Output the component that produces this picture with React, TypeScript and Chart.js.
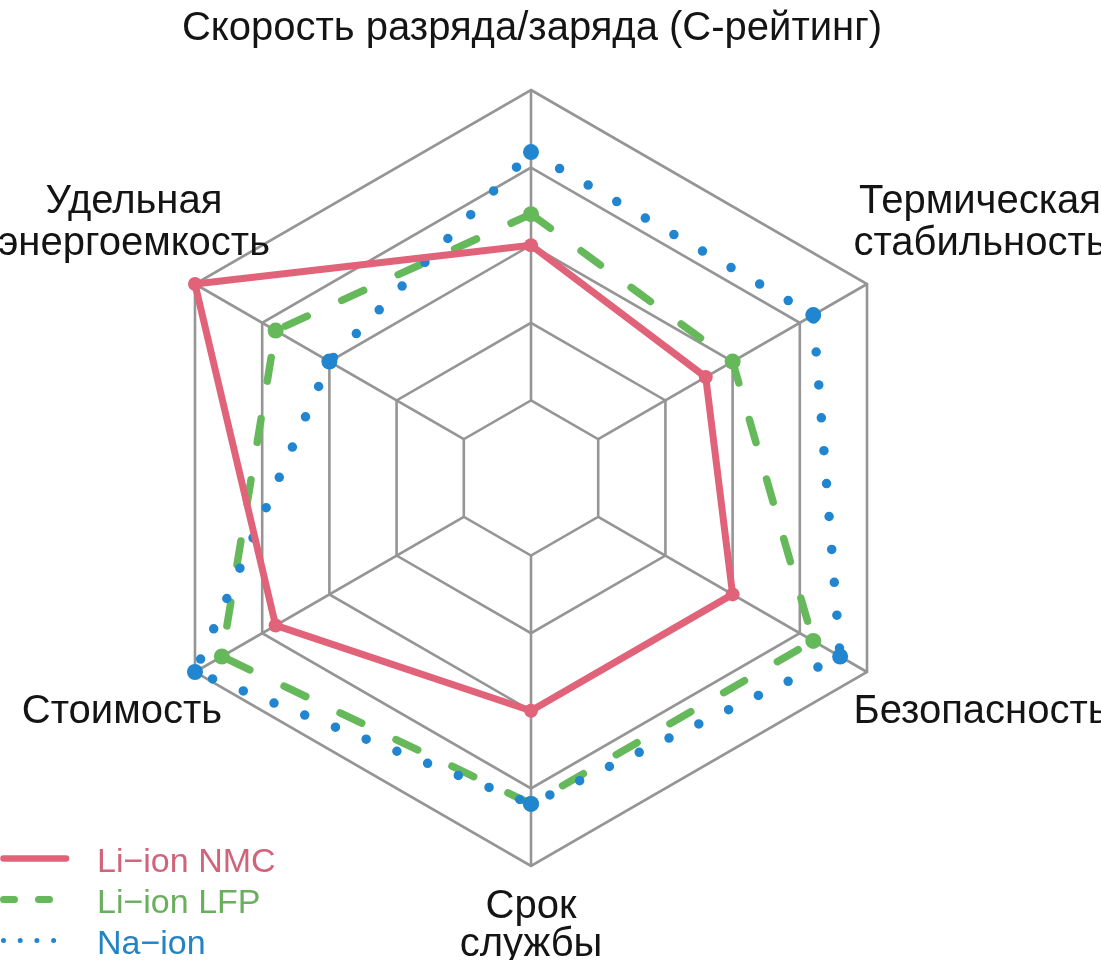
import React, { useEffect, useRef } from "react";
import { Chart, registerables } from "chart.js";

Chart.register(...registerables);

// ---- data ----
const axisLabels: string[][] = [
  ["Скорость разряда/заряда (С-рейтинг)"],
  ["Термическая", "стабильность"],
  ["Безопасность"],
  ["Срок", "службы"],
  ["Стоимость"],
  ["Удельная", "энергоемкость"],
];
const seriesNames = ["Li−ion NMC", "Li−ion LFP", "Na−ion"];
const nmcValues = [3.0, 2.6, 3.0, 3.0, 3.8, 5.0];
const lfpValues = [3.4, 3.0, 4.2, 4.2, 4.6, 3.8];
const naValues = [4.2, 4.2, 4.6, 4.2, 5.0, 3.0];
const scaleTicks = [1, 2, 3, 4, 5];

// ---- styles ----
const RED = "#E0637A";
const GREEN = "#66B95A";
const BLUE = "#2186CF";
const LEGEND_TEXT = ["#D0647A", "#6AAF5E", "#2383C4"];
const GRID = "#959595";
const FONT = '"Liberation Sans", Arial, Helvetica, sans-serif';
const LABEL_OFFSETS: number[][] = [
  [1, -50],
  [113, -71],
  [114, 51],
  [0, 52],
  [-73, 51],
  [-61, -71],
];
const LABEL_LINE_HEIGHTS = [0, 42, 0, 38, 0, 42];
const LEGEND_SAMPLES = [
  { width: 6.5, dash: [] as number[] },
  { width: 7, dash: [11, 24] },
  { width: 5, dash: [0, 16.7] },
];

const spokePlugin = {
  id: "spokes",
  beforeDatasetsDraw(chart: any) {
    const scale = chart.scales.r;
    const ctx = chart.ctx;
    ctx.save();
    ctx.strokeStyle = GRID;
    ctx.lineWidth = 2.6;
    for (let i = 0; i < chart.data.labels.length; i++) {
      const a = scale.getPointPositionForValue(i, scaleTicks[0]);
      const b = scale.getPointPositionForValue(i, scaleTicks[scaleTicks.length - 1]);
      ctx.beginPath();
      ctx.moveTo(a.x, a.y);
      ctx.lineTo(b.x, b.y);
      ctx.stroke();
    }
    ctx.restore();
  },
};

const labelPlugin = {
  id: "axisLabels",
  afterDraw(chart: any) {
    const scale = chart.scales.r;
    const ctx = chart.ctx;
    ctx.save();
    ctx.font = `40px ${FONT}`;
    ctx.fillStyle = "#141414";
    ctx.textAlign = "center";
    ctx.textBaseline = "alphabetic";
    chart.data.labels.forEach((lab: any, i: number) => {
      const p = scale.getPointPosition(i, scale.drawingArea);
      const [dx, dy] = LABEL_OFFSETS[i];
      const lines = Array.isArray(lab) ? lab : [lab];
      lines.forEach((line: string, j: number) => {
        ctx.fillText(line, p.x + dx, p.y + dy + j * LABEL_LINE_HEIGHTS[i]);
      });
    });
    ctx.restore();
  },
};

const legendPlugin = {
  id: "cornerLegend",
  afterDraw(chart: any) {
    const ctx = chart.ctx;
    const x0 = 3.5;
    const x1 = 66;
    const textX = 97;
    const firstBaseline = 872;
    const rowH = 41;
    ctx.save();
    chart.data.datasets.forEach((ds: any, i: number) => {
      const base = firstBaseline + i * rowH;
      const y = base - 13.5;
      const s = LEGEND_SAMPLES[i];
      ctx.strokeStyle = ds.borderColor;
      ctx.lineWidth = s.width;
      ctx.lineCap = "round";
      ctx.setLineDash(s.dash);
      ctx.beginPath();
      ctx.moveTo(x0, y);
      ctx.lineTo(x1, y);
      ctx.stroke();
      ctx.setLineDash([]);
      ctx.font = `34px ${FONT}`;
      ctx.fillStyle = LEGEND_TEXT[i];
      ctx.textAlign = "left";
      ctx.textBaseline = "alphabetic";
      ctx.fillText(ds.label, textX, base);
    });
    ctx.restore();
  },
};

export default function App() {
  const canvasRef = useRef<HTMLCanvasElement | null>(null);

  useEffect(() => {
    document.body.style.margin = "0";
    const canvas = canvasRef.current;
    if (!canvas) return;
    const chart = new Chart(canvas, {
      type: "radar",
      data: {
        labels: axisLabels as any,
        datasets: [
          {
            label: seriesNames[0],
            data: nmcValues,
            borderColor: RED,
            backgroundColor: "transparent",
            fill: false,
            borderWidth: 7,
            borderJoinStyle: "round",
            pointRadius: 7,
            pointBackgroundColor: RED,
            pointBorderColor: RED,
            pointBorderWidth: 0,
            order: 0,
          },
          {
            label: seriesNames[1],
            data: lfpValues,
            borderColor: GREEN,
            backgroundColor: "transparent",
            fill: false,
            borderWidth: 7.5,
            borderDash: [24, 38],
            borderCapStyle: "round",
            pointRadius: 8,
            pointBackgroundColor: GREEN,
            pointBorderColor: GREEN,
            pointBorderWidth: 0,
            order: 2,
          },
          {
            label: seriesNames[2],
            data: naValues,
            borderColor: BLUE,
            backgroundColor: "transparent",
            fill: false,
            borderWidth: 9.5,
            borderDash: [0, 33],
            borderCapStyle: "round",
            pointRadius: 8,
            pointBackgroundColor: BLUE,
            pointBorderColor: BLUE,
            pointBorderWidth: 0,
            order: 1,
          },
        ] as any,
      },
      options: {
        responsive: false,
        animation: false,
        layout: { padding: { left: 0, right: 39, top: 90, bottom: 94 } },
        plugins: {
          legend: { display: false },
          tooltip: { enabled: false },
        },
        elements: { line: { tension: 0 } },
        scales: {
          r: {
            min: 0,
            max: scaleTicks[scaleTicks.length - 1],
            ticks: { display: false, stepSize: 1 },
            grid: { circular: false, color: GRID, lineWidth: 2.6 },
            angleLines: { display: false },
            pointLabels: { display: false },
          },
        },
      } as any,
      plugins: [spokePlugin, labelPlugin, legendPlugin],
    });
    return () => chart.destroy();
  }, []);

  return (
    <div style={{ width: 1101, height: 960, background: "#fff" }}>
      <canvas ref={canvasRef} width={1101} height={960} style={{ display: "block" }} />
    </div>
  );
}
